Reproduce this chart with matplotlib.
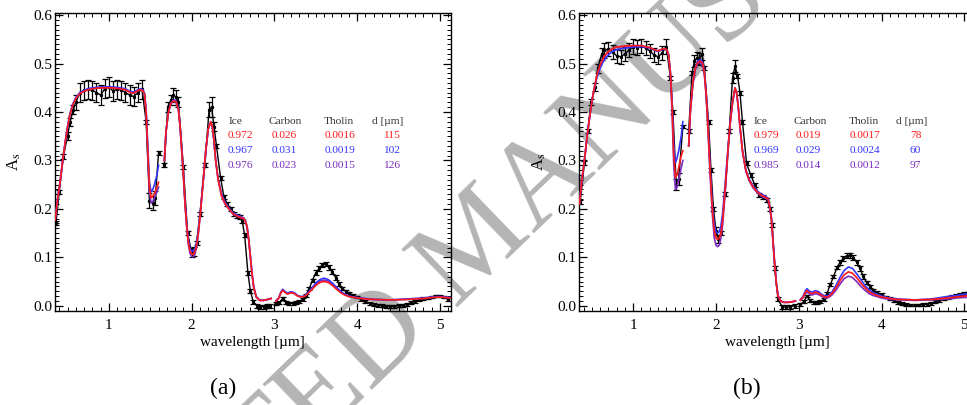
"""
Two-panel albedo spectrum plot: measured A_s with error bars against three
ice/carbon/tholin mixture models, panels (a) and (b).
"""

import matplotlib
matplotlib.use("Agg")
import matplotlib.pyplot as plt
from matplotlib.ticker import MultipleLocator, FormatStrFormatter

plt.rcParams["font.family"] = ["Liberation Serif", "DejaVu Serif"]
plt.rcParams["mathtext.fontset"] = "stix"

RED = "#ff1a1a"
BLUE = "#3535ff"
PURPLE = "#7a2cc0"

# Model wavelength grids (three segments, gaps at the telluric bands).
MODEL_WL1 = [0.35, 0.38, 0.41, 0.44, 0.47, 0.50, 0.53, 0.56, 0.60, 0.65, 0.70, 0.75, 0.80, 0.90, 1.00,
             1.10, 1.20, 1.25, 1.30, 1.35, 1.38, 1.41, 1.43, 1.45, 1.47, 1.49, 1.51, 1.53, 1.55, 1.58, 1.60]
MODEL_WL2 = [1.67, 1.69, 1.72, 1.75, 1.78, 1.81, 1.84, 1.86, 1.88, 1.90, 1.92, 1.94, 1.96, 1.98, 2.00,
             2.02, 2.04, 2.06, 2.08, 2.11, 2.14, 2.17, 2.20, 2.23, 2.25, 2.27, 2.29, 2.32, 2.36, 2.40,
             2.45, 2.50, 2.55, 2.60, 2.63, 2.65, 2.67, 2.69, 2.71, 2.73, 2.75, 2.78, 2.82, 2.87, 2.92, 2.96]
MODEL_WL3 = [3.02, 3.05, 3.08, 3.10, 3.13, 3.16, 3.20, 3.24, 3.28, 3.32, 3.36, 3.40, 3.45, 3.50, 3.55,
             3.60, 3.65, 3.70, 3.75, 3.80, 3.85, 3.90, 4.00, 4.10, 4.20, 4.40, 4.60, 4.80, 4.90, 5.00, 5.13]

# ---- panel (a) ----
DATA_A_WL1 = [0.36, 0.40, 0.45, 0.50, 0.53, 0.57, 0.60, 0.65, 0.70, 0.75, 0.80, 0.85, 0.90, 0.95,
              1.00, 1.05, 1.10, 1.15, 1.20, 1.25, 1.30, 1.35, 1.40, 1.45, 1.49, 1.53, 1.56, 1.60]
DATA_A_1 = [0.17, 0.235, 0.308, 0.35, 0.38, 0.405, 0.42, 0.44, 0.445, 0.447, 0.445, 0.44, 0.435, 0.448,
            0.452, 0.443, 0.447, 0.445, 0.44, 0.435, 0.432, 0.44, 0.447, 0.38, 0.217, 0.212, 0.222, 0.315]
ERR_A_1 = [0.004, 0.004, 0.005, 0.008, 0.008, 0.01, 0.015] + [0.02] * 16 + [0.004, 0.015, 0.015, 0.015, 0.004]
DATA_A_WL2 = [1.67, 1.71, 1.75, 1.78, 1.81, 1.84, 1.90, 1.95, 2.00, 2.03, 2.06, 2.10, 2.16, 2.21, 2.24,
              2.27, 2.30, 2.35, 2.39, 2.43, 2.47, 2.51, 2.55, 2.58, 2.61, 2.64, 2.68, 2.71, 2.745, 2.79,
              2.83, 2.87, 2.91, 2.95]
DATA_A_2 = [0.29, 0.41, 0.425, 0.435, 0.43, 0.42, 0.287, 0.15, 0.11, 0.112, 0.13, 0.19, 0.29, 0.405,
            0.41, 0.37, 0.33, 0.263, 0.225, 0.21, 0.2, 0.19, 0.186, 0.183, 0.175, 0.146, 0.067, 0.03,
            0.008, 0.0, -0.002, -0.002, -0.001, 0.0]
ERR_A_2 = [0.004, 0.01, 0.01, 0.015, 0.015, 0.01, 0.004, 0.004, 0.01, 0.01, 0.004, 0.004, 0.004, 0.015,
           0.02, 0.01] + [0.004] * 18
DATA_WL3 = [3.02, 3.06, 3.10, 3.14, 3.18, 3.22, 3.26, 3.30, 3.34, 3.38, 3.42, 3.46, 3.50, 3.54, 3.58,
            3.62, 3.66, 3.70, 3.74, 3.78, 3.82, 3.86, 3.90, 3.95, 4.00, 4.05, 4.10, 4.15, 4.20, 4.25,
            4.30, 4.35, 4.40, 4.45, 4.50, 4.55, 4.60, 4.65, 4.70, 4.75, 4.80, 4.85, 4.90, 4.95, 5.00,
            5.05, 5.10]
DATA_A_3 = [0.004, 0.006, 0.015, 0.006, 0.005, 0.005, 0.006, 0.008, 0.013, 0.022, 0.035, 0.053, 0.068,
            0.077, 0.084, 0.086, 0.079, 0.07, 0.058, 0.045, 0.036, 0.03, 0.026, 0.022, 0.018, 0.013,
            0.009, 0.005, 0.003, 0.001, 0.0, -0.001, -0.001, -0.001, 0.0, 0.001, 0.003, 0.006, 0.009,
            0.012, 0.014, 0.016, 0.018, 0.02, 0.02, 0.018, 0.013]
ERR_3 = [0.003] * 12 + [0.005] * 8 + [0.003] * 27

RED_A_1 = [0.177, 0.22, 0.255, 0.298, 0.335, 0.368, 0.395, 0.413, 0.428, 0.438, 0.443, 0.446, 0.448,
           0.45, 0.45, 0.449, 0.446, 0.441, 0.439, 0.444, 0.446, 0.444, 0.437, 0.40, 0.32, 0.245, 0.223,
           0.226, 0.232, 0.245, 0.255]
BLUE_A_1 = [0.177, 0.22, 0.255, 0.298, 0.336, 0.37, 0.397, 0.415, 0.43, 0.44, 0.445, 0.448, 0.45,
            0.452, 0.452, 0.451, 0.448, 0.443, 0.441, 0.446, 0.448, 0.446, 0.439, 0.405, 0.33, 0.255,
            0.235, 0.24, 0.25, 0.27, 0.29]
PURPLE_A_1 = [0.177, 0.22, 0.255, 0.298, 0.335, 0.368, 0.395, 0.413, 0.428, 0.438, 0.443, 0.446, 0.448,
              0.45, 0.45, 0.449, 0.446, 0.441, 0.439, 0.444, 0.446, 0.444, 0.437, 0.398, 0.31, 0.235,
              0.212, 0.215, 0.222, 0.235, 0.245]
RED_A_2 = [0.30, 0.36, 0.40, 0.418, 0.423, 0.422, 0.405, 0.37, 0.32, 0.27, 0.21, 0.165, 0.13, 0.113,
           0.107, 0.106, 0.112, 0.125, 0.15, 0.2, 0.26, 0.32, 0.365, 0.38, 0.37, 0.34, 0.3, 0.26, 0.228,
           0.212, 0.2, 0.19, 0.185, 0.182, 0.18, 0.175, 0.162, 0.135, 0.1, 0.065, 0.038, 0.018, 0.011,
           0.011, 0.013, 0.015]
BLUE_A_2 = [0.30, 0.36, 0.40, 0.419, 0.425, 0.424, 0.407, 0.372, 0.322, 0.272, 0.213, 0.17, 0.136,
            0.118, 0.112, 0.113, 0.118, 0.13, 0.155, 0.203, 0.262, 0.32, 0.365, 0.38, 0.37, 0.34, 0.3,
            0.262, 0.232, 0.215, 0.202, 0.192, 0.187, 0.184, 0.181, 0.176, 0.163, 0.137, 0.102, 0.067,
            0.04, 0.019, 0.012, 0.011, 0.013, 0.015]
PURPLE_A_2 = [0.30, 0.36, 0.40, 0.417, 0.422, 0.421, 0.404, 0.369, 0.319, 0.268, 0.208, 0.162, 0.126,
              0.108, 0.102, 0.101, 0.107, 0.121, 0.147, 0.198, 0.258, 0.318, 0.364, 0.379, 0.369, 0.339,
              0.3, 0.26, 0.227, 0.211, 0.199, 0.189, 0.184, 0.181, 0.179, 0.174, 0.161, 0.134, 0.099,
              0.064, 0.037, 0.018, 0.011, 0.011, 0.013, 0.015]
RED_A_3 = [0.01, 0.015, 0.027, 0.032, 0.027, 0.024, 0.027, 0.025, 0.02, 0.018, 0.019, 0.024, 0.033,
           0.042, 0.048, 0.05, 0.048, 0.042, 0.034, 0.027, 0.022, 0.019, 0.016, 0.014, 0.013, 0.012,
           0.013, 0.015, 0.017, 0.018, 0.016]
BLUE_A_3 = [0.011, 0.016, 0.029, 0.034, 0.029, 0.026, 0.029, 0.027, 0.021, 0.019, 0.02, 0.026, 0.036,
            0.047, 0.054, 0.057, 0.054, 0.047, 0.038, 0.03, 0.024, 0.02, 0.017, 0.015, 0.013, 0.012,
            0.014, 0.016, 0.018, 0.019, 0.017]
PURPLE_A_3 = [0.01, 0.015, 0.028, 0.033, 0.028, 0.025, 0.028, 0.026, 0.02, 0.018, 0.019, 0.025, 0.034,
              0.044, 0.051, 0.053, 0.051, 0.044, 0.036, 0.028, 0.023, 0.019, 0.016, 0.014, 0.013, 0.012,
              0.013, 0.015, 0.017, 0.018, 0.016]

# ---- panel (b) ----
DATA_B_WL1 = [0.36, 0.41, 0.45, 0.49, 0.54, 0.57, 0.62, 0.65, 0.70, 0.75, 0.80, 0.85, 0.90, 0.95,
              1.00, 1.05, 1.10, 1.15, 1.20, 1.25, 1.30, 1.35, 1.40, 1.45, 1.48, 1.52, 1.55, 1.60]
DATA_B_1 = [0.215, 0.294, 0.36, 0.42, 0.452, 0.49, 0.52, 0.527, 0.53, 0.524, 0.516, 0.514, 0.52, 0.528,
            0.535, 0.533, 0.536, 0.532, 0.526, 0.518, 0.514, 0.522, 0.535, 0.47, 0.40, 0.25, 0.262, 0.37]
ERR_B_1 = [0.004, 0.004, 0.004, 0.006, 0.008, 0.01, 0.012] + [0.015] * 16 + [0.004, 0.004, 0.012, 0.012, 0.004]
DATA_B_WL2 = [1.67, 1.71, 1.74, 1.77, 1.80, 1.83, 1.86, 1.91, 1.94, 1.97, 2.00, 2.03, 2.06, 2.11, 2.16,
              2.20, 2.23, 2.26, 2.29, 2.32, 2.37, 2.42, 2.47, 2.52, 2.57, 2.62, 2.65, 2.68, 2.71, 2.75,
              2.80, 2.85, 2.90, 2.95]
DATA_B_2 = [0.36, 0.48, 0.505, 0.512, 0.51, 0.52, 0.49, 0.38, 0.28, 0.2, 0.155, 0.138, 0.15, 0.23,
            0.36, 0.47, 0.495, 0.475, 0.44, 0.38, 0.294, 0.27, 0.249, 0.228, 0.224, 0.218, 0.2, 0.167,
            0.077, 0.013, -0.002, -0.003, -0.002, 0.0]
ERR_B_2 = [0.004, 0.004, 0.012, 0.012, 0.012, 0.012, 0.004, 0.004, 0.004, 0.004, 0.008, 0.008, 0.004,
           0.004, 0.004, 0.01, 0.012] + [0.004] * 17
DATA_B_3 = [0.003, 0.008, 0.02, 0.01, 0.007, 0.007, 0.008, 0.012, 0.025, 0.043, 0.06, 0.078, 0.09,
            0.098, 0.103, 0.104, 0.099, 0.09, 0.077, 0.061, 0.048, 0.04, 0.032, 0.027, 0.023, 0.018,
            0.014, 0.01, 0.006, 0.004, 0.002, 0.0015, 0.0015, 0.0015, 0.002, 0.003, 0.005, 0.008, 0.011,
            0.014, 0.017, 0.019, 0.021, 0.023, 0.025, 0.026, 0.027]

RED_B_1 = [0.21, 0.26, 0.30, 0.345, 0.385, 0.42, 0.45, 0.475, 0.497, 0.515, 0.525, 0.531, 0.534, 0.536,
           0.537, 0.537, 0.533, 0.529, 0.526, 0.53, 0.531, 0.528, 0.515, 0.48, 0.41, 0.31, 0.265, 0.27,
           0.285, 0.31, 0.32]
BLUE_B_1 = [0.21, 0.26, 0.30, 0.345, 0.385, 0.42, 0.448, 0.47, 0.49, 0.508, 0.518, 0.525, 0.529, 0.532,
            0.534, 0.535, 0.532, 0.528, 0.525, 0.529, 0.53, 0.527, 0.515, 0.482, 0.42, 0.33, 0.295,
            0.305, 0.32, 0.35, 0.38]
PURPLE_B_1 = [0.21, 0.26, 0.30, 0.345, 0.385, 0.42, 0.45, 0.475, 0.497, 0.515, 0.525, 0.531, 0.534,
              0.536, 0.537, 0.537, 0.533, 0.529, 0.526, 0.53, 0.531, 0.528, 0.515, 0.475, 0.395, 0.29,
              0.24, 0.245, 0.26, 0.285, 0.30]
RED_B_2 = [0.33, 0.40, 0.46, 0.49, 0.503, 0.505, 0.5, 0.48, 0.44, 0.38, 0.31, 0.245, 0.19, 0.155, 0.14,
           0.137, 0.14, 0.15, 0.175, 0.24, 0.31, 0.375, 0.42, 0.45, 0.44, 0.41, 0.37, 0.32, 0.28, 0.26,
           0.245, 0.235, 0.228, 0.224, 0.22, 0.205, 0.18, 0.13, 0.085, 0.045, 0.02, 0.01, 0.007, 0.007,
           0.008, 0.01]
BLUE_B_2 = [0.33, 0.40, 0.46, 0.492, 0.506, 0.508, 0.503, 0.483, 0.444, 0.385, 0.318, 0.255, 0.2,
            0.168, 0.153, 0.15, 0.153, 0.165, 0.19, 0.25, 0.315, 0.377, 0.421, 0.45, 0.44, 0.41, 0.37,
            0.322, 0.282, 0.262, 0.247, 0.237, 0.23, 0.226, 0.222, 0.207, 0.182, 0.133, 0.088, 0.047,
            0.021, 0.01, 0.007, 0.007, 0.008, 0.01]
PURPLE_B_2 = [0.33, 0.40, 0.455, 0.487, 0.5, 0.501, 0.496, 0.476, 0.435, 0.375, 0.302, 0.235, 0.18,
              0.14, 0.125, 0.122, 0.125, 0.14, 0.165, 0.232, 0.305, 0.372, 0.418, 0.448, 0.438, 0.408,
              0.368, 0.318, 0.278, 0.258, 0.243, 0.233, 0.226, 0.222, 0.218, 0.203, 0.178, 0.128, 0.083,
              0.044, 0.02, 0.01, 0.007, 0.007, 0.008, 0.01]
RED_B_3 = [0.012, 0.017, 0.028, 0.031, 0.027, 0.025, 0.028, 0.026, 0.021, 0.018, 0.019, 0.025, 0.037,
           0.052, 0.064, 0.07, 0.067, 0.058, 0.047, 0.037, 0.029, 0.024, 0.018, 0.015, 0.013, 0.012,
           0.013, 0.016, 0.018, 0.02, 0.021]
BLUE_B_3 = [0.013, 0.019, 0.031, 0.035, 0.030, 0.028, 0.031, 0.029, 0.023, 0.02, 0.021, 0.028, 0.042,
            0.059, 0.073, 0.08, 0.077, 0.066, 0.054, 0.042, 0.033, 0.027, 0.02, 0.016, 0.014, 0.012,
            0.014, 0.019, 0.021, 0.024, 0.026]
PURPLE_B_3 = [0.011, 0.016, 0.025, 0.028, 0.024, 0.022, 0.025, 0.023, 0.019, 0.016, 0.017, 0.022, 0.032,
              0.045, 0.056, 0.061, 0.058, 0.05, 0.04, 0.032, 0.025, 0.021, 0.016, 0.013, 0.012, 0.011,
              0.012, 0.014, 0.016, 0.017, 0.018]

# Mixture tables, one row per model (red, blue, purple).
HEADERS = ["Ice", "Carbon", "Tholin", "d [\u00b5m]"]
TABLE_A = [["0.972", "0.026", "0.0016", "115"],
           ["0.967", "0.031", "0.0019", "102"],
           ["0.976", "0.023", "0.0015", "126"]]
TABLE_B = [["0.979", "0.019", "0.0017", "78"],
           ["0.969", "0.029", "0.0024", "60"],
           ["0.985", "0.014", "0.0012", "97"]]

PANEL_A = {
    "data": [(DATA_A_WL1, DATA_A_1, ERR_A_1), (DATA_A_WL2, DATA_A_2, ERR_A_2), (DATA_WL3, DATA_A_3, ERR_3)],
    "models": [(PURPLE, [PURPLE_A_1, PURPLE_A_2, PURPLE_A_3]),
               (BLUE, [BLUE_A_1, BLUE_A_2, BLUE_A_3]),
               (RED, [RED_A_1, RED_A_2, RED_A_3])],
    "table": TABLE_A,
    "label": "(a)",
}
PANEL_B = {
    "data": [(DATA_B_WL1, DATA_B_1, ERR_B_1), (DATA_B_WL2, DATA_B_2, ERR_B_2), (DATA_WL3, DATA_B_3, ERR_3)],
    "models": [(PURPLE, [PURPLE_B_1, PURPLE_B_2, PURPLE_B_3]),
               (BLUE, [BLUE_B_1, BLUE_B_2, BLUE_B_3]),
               (RED, [RED_B_1, RED_B_2, RED_B_3])],
    "table": TABLE_B,
    "label": "(b)",
}


def draw_panel(ax, panel, table_x):
    """Plot the measured spectrum, the three models and the mixture table."""
    ax.patch.set_alpha(0)
    for wl, val, err in panel["data"]:
        ax.errorbar(wl, val, yerr=err, color="black", lw=1.0, elinewidth=0.9, capsize=2.2,
                    capthick=0.9, marker="s", ms=1.3, zorder=2)
    for colour, segments in panel["models"]:
        for wl, val in zip([MODEL_WL1, MODEL_WL2, MODEL_WL3], segments):
            ax.plot(wl, val, color=colour, lw=1.2, zorder=3)

    ax.set_xlim(0.349, 5.13)
    ax.set_ylim(-0.0103, 0.605)
    ax.xaxis.set_major_locator(MultipleLocator(1))
    ax.xaxis.set_minor_locator(MultipleLocator(0.1))
    ax.yaxis.set_major_locator(MultipleLocator(0.1))
    ax.yaxis.set_minor_locator(MultipleLocator(0.01))
    ax.yaxis.set_major_formatter(FormatStrFormatter("%.1f"))
    ax.tick_params(which="both", direction="in", top=True, right=True, labelsize=11)
    ax.tick_params(which="major", length=6, width=0.9)
    ax.tick_params(which="minor", length=3, width=0.7)
    ax.tick_params(axis="x", pad=6)
    ax.tick_params(axis="y", pad=2)
    for sp in ax.spines.values():
        sp.set_linewidth(1.0)
    ax.set_xlabel("wavelength [\u00b5m]", fontsize=11, labelpad=3)
    ax.set_ylabel(r"A$_\mathrm{s}$", fontsize=12)
    ax.yaxis.set_label_coords(-0.08, 0.5)

    # mixture table (header row, then one row per model in its colour)
    col_x, num_x, d_right = table_x
    rows_y = [0.380, 0.352, 0.321, 0.290]
    for x, head in zip(col_x, HEADERS):
        ax.text(x, rows_y[0], head, fontsize=8.2, color="#333333", va="center", ha="left")
    for row, colour, y in zip(panel["table"], [RED, BLUE, PURPLE], rows_y[1:]):
        for x, cell in zip(num_x, row[:3]):
            ax.text(x, y, cell, fontsize=8.2, color=colour, va="center", ha="left")
        ax.text(d_right, y, row[3], fontsize=8.2, color=colour, va="center", ha="right")


fig = plt.figure(figsize=(9.67, 4.05), dpi=100)
ax_a = fig.add_axes([0.0569, 0.2328, 0.4092, 0.7358])
ax_b = fig.add_axes([0.5991, 0.2328, 0.4092, 0.7358])

draw_panel(ax_a, PANEL_A, ([2.44, 2.934, 3.60, 4.175], [2.44, 2.966, 3.61], 4.516))
draw_panel(ax_b, PANEL_B, ([2.454, 2.937, 3.61, 4.178], [2.454, 2.966, 3.61], 4.48))

fig.text(0.2306, 0.042, PANEL_A["label"], fontsize=17, ha="center", va="center")
fig.text(0.7725, 0.042, PANEL_B["label"], fontsize=17, ha="center", va="center")

# manuscript watermark across both panels, drawn behind the plot content
fig.text(0.497, 0.398, "ACCEPTED MANUSCRIPT", fontsize=88, color="#b4b4b4", rotation=44,
         ha="center", va="center", rotation_mode="anchor", zorder=-1)

fig.savefig("out.png", dpi=100)
